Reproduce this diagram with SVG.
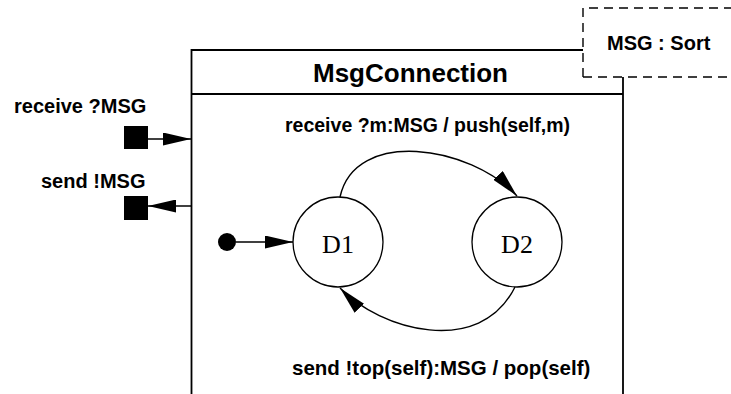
<svg xmlns="http://www.w3.org/2000/svg" width="731" height="394" viewBox="0 0 731 394">
  <style>
    .lbl { font-family: "Liberation Sans", Arial, sans-serif; font-weight: bold; fill: #000; }
    .state { fill: #fff; stroke: #000; stroke-width: 1.3; }
    .stname { font-family: "Liberation Serif", "Times New Roman", serif; font-size: 26px; fill: #000; text-anchor: middle; }
    .edge { fill: none; stroke: #000; stroke-width: 1.4; marker-end: url(#head); }
    .frame { fill: none; stroke: #000; stroke-width: 1.8; }
  </style>
  <defs>
    <marker id="head" viewBox="0 0 28 13" refX="28" refY="6.5" markerWidth="28" markerHeight="13" markerUnits="userSpaceOnUse" orient="auto">
      <path d="M0,0 L28,6.5 L0,13 Z" fill="#000"/>
    </marker>
  </defs>

  <rect width="731" height="394" fill="#fff"/>

  <!-- capsule frame with its name compartment -->
  <g id="msgconnection">
    <path class="frame" d="M191.5,394 V50 H583 M623,77 V394 M191.5,94 H623"/>
    <text class="lbl" x="313" y="82" font-size="26">MsgConnection</text>
  </g>

  <!-- template parameter box -->
  <g id="param">
    <path d="M583,77 V8 H731 M583,77 H731" fill="none" stroke="#000" stroke-width="1.4" stroke-dasharray="9,6"/>
    <text class="lbl" x="607" y="50" font-size="20">MSG : Sort</text>
  </g>

  <!-- ports -->
  <g id="port-receive">
    <rect x="124" y="126" width="24" height="23" fill="#000"/>
    <text class="lbl" x="14" y="113" font-size="20">receive ?MSG</text>
  </g>
  <g id="port-send">
    <rect x="124" y="196" width="24" height="24" fill="#000"/>
    <text class="lbl" x="41" y="188" font-size="20">send !MSG</text>
  </g>

  <!-- states -->
  <g id="initial">
    <circle cx="227" cy="242" r="9" fill="#000"/>
  </g>
  <g id="d1">
    <circle class="state" cx="338" cy="242" r="45"/>
    <text class="stname" x="338" y="253">D1</text>
  </g>
  <g id="d2">
    <circle class="state" cx="517" cy="242" r="45"/>
    <text class="stname" x="517" y="253">D2</text>
  </g>

  <!-- connectors -->
  <g id="connectors">
    <line class="edge" x1="148" y1="139" x2="191" y2="139"/>
    <line class="edge" x1="191" y1="206" x2="148" y2="206"/>
    <line class="edge" x1="236" y1="242" x2="293" y2="242"/>
    <path class="edge" d="M340,197 C355,128 470,145 517,196"/>
    <path class="edge" d="M515,287 C480,358 380,330 340,288"/>
    <text class="lbl" x="285" y="132" font-size="19.5">receive ?m:MSG / push(self,m)</text>
    <text class="lbl" x="292" y="375" font-size="20.5">send !top(self):MSG / pop(self)</text>
  </g>
</svg>
